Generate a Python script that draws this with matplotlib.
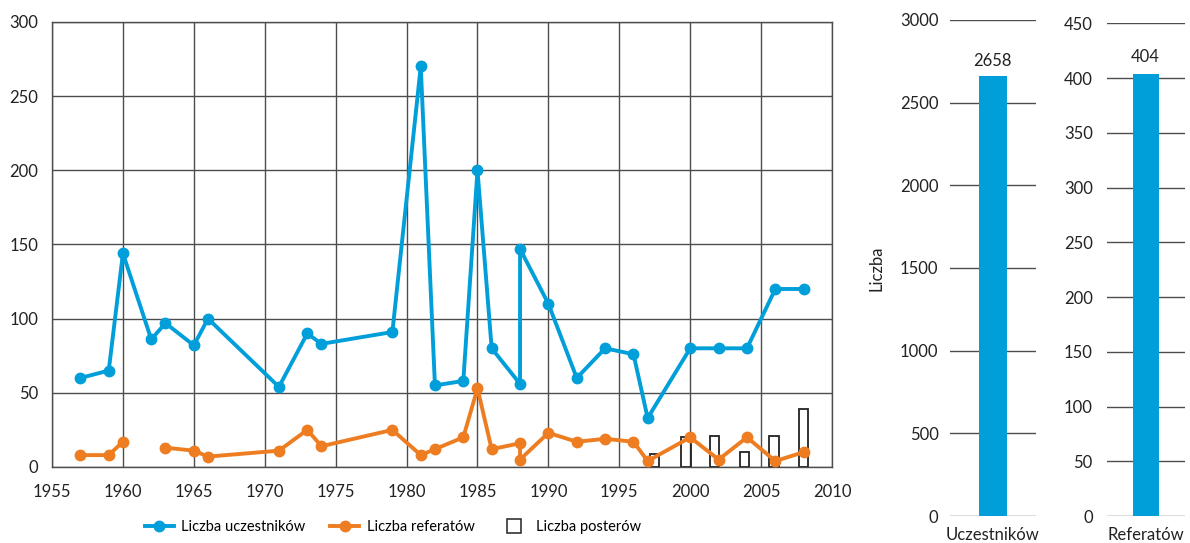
import numpy as np
import matplotlib.pyplot as plt
from matplotlib.lines import Line2D

plt.rcParams['font.family'] = ['Lato', 'DejaVu Sans']
plt.rcParams['font.size'] = 12

blue = '#009fda'
orange = '#ee7d22'
grid_c = '#4d4d4d'

# participants per conference (1988 appears twice)
years_u = [1957, 1959, 1960, 1962, 1963, 1965, 1966, 1971, 1973, 1974, 1979, 1981, 1982,
           1984, 1985, 1986, 1988, 1988, 1990, 1992, 1994, 1996, 1997, 2000, 2002, 2004,
           2006, 2008]
uczestnicy = [60, 65, 144, 86, 97, 82, 100, 54, 90, 83, 91, 270, 55,
              58, 200, 80, 56, 147, 110, 60, 80, 76, 33, 80, 80, 80,
              120, 120]

# papers (no value for 1962 -> gap)
years_r = [1957, 1959, 1960, 1962, 1963, 1965, 1966, 1971, 1973, 1974, 1979, 1981, 1982,
           1984, 1985, 1986, 1988, 1988, 1990, 1992, 1994, 1996, 1997, 2000, 2002, 2004,
           2006, 2008]
referaty = [8, 8, 17, np.nan, 13, 11, 7, 11, 25, 14, 25, 8, 12,
            20, 53, 12, 16, 5, 23, 17, 19, 17, 4, 20, 5, 20,
            4, 10]

years_p = [1997.5, 1999.7, 2001.7, 2003.8, 2005.9, 2008]
postery = [9, 20, 21, 10, 21, 39]

suma_u = 2658
suma_r = 404

fig = plt.figure(figsize=(11.9, 5.43), dpi=100)

ax = fig.add_axes([0.0437, 0.140, 0.6555, 0.8195])
ax.bar(years_p, postery, width=0.65, facecolor='none', edgecolor='#222222', linewidth=1.3, zorder=2)
ax.plot(years_u, uczestnicy, color=blue, lw=2.8, marker='o', ms=7.5, zorder=3)
ax.plot(years_r, referaty, color=orange, lw=2.8, marker='o', ms=7.5, zorder=3)
ax.set_xlim(1955, 2010)
ax.set_ylim(0, 300)
ax.set_xticks(range(1955, 2011, 5))
ax.set_yticks(range(0, 301, 50))
ax.grid(True, color=grid_c, lw=1)
ax.set_axisbelow(True)
for s in ax.spines.values():
    s.set_color(grid_c)
    s.set_linewidth(1)
ax.tick_params(length=0, labelcolor='#222222')
ax.tick_params(axis='x', pad=12)
ax.tick_params(axis='y', pad=10)

handles = [
    Line2D([0], [0], color=blue, lw=2.8, marker='o', ms=7.5),
    Line2D([0], [0], color=orange, lw=2.8, marker='o', ms=7.5),
    Line2D([0], [0], linestyle='none', marker='s', ms=10, markerfacecolor='white',
           markeredgecolor='#222222', markeredgewidth=1.1),
]
fig.legend(handles, ['Liczba uczestników', 'Liczba referatów', 'Liczba posterów'],
           loc='center', bbox_to_anchor=(0.33, 0.03), ncol=3, frameon=False,
           handlelength=2.0, handletextpad=0.5, columnspacing=1.7, fontsize=10.5)

# totals - participants
ax1 = fig.add_axes([0.798, 0.0497, 0.0723, 0.9138])
ax1.bar([0], [suma_u], width=0.65, color=blue, zorder=3)
ax1.set_xlim(-1, 1)
ax1.set_ylim(0, 3000)
ax1.set_yticks(range(0, 3001, 500))
ax1.set_xticks([0])
ax1.set_xticklabels(['Uczestników'])
ax1.yaxis.grid(True, color=grid_c, lw=1)
ax1.set_axisbelow(True)
for s in ax1.spines.values():
    s.set_visible(False)
ax1.tick_params(length=0, labelcolor='#222222')
ax1.tick_params(axis='y', pad=8)
ax1.tick_params(axis='x', pad=8)
ax1.set_ylabel('Liczba', labelpad=11, color='#222222')
ax1.text(0, suma_u + 45, str(suma_u), ha='center', va='bottom', color='#222222')

# totals - papers
ax2 = fig.add_axes([0.930, 0.0497, 0.0655, 0.9074])
ax2.bar([0], [suma_r], width=0.66, color=blue, zorder=3)
ax2.set_xlim(-1, 1)
ax2.set_ylim(0, 450)
ax2.set_yticks(range(0, 451, 50))
ax2.set_xticks([0])
ax2.set_xticklabels(['Referatów'])
ax2.yaxis.grid(True, color=grid_c, lw=1)
ax2.set_axisbelow(True)
for s in ax2.spines.values():
    s.set_visible(False)
ax2.tick_params(length=0, labelcolor='#222222')
ax2.tick_params(axis='y', pad=10)
ax2.tick_params(axis='x', pad=8)
ax2.text(0, suma_r + 8, str(suma_r), ha='center', va='bottom', color='#222222')

fig.savefig('out.png', dpi=100)
